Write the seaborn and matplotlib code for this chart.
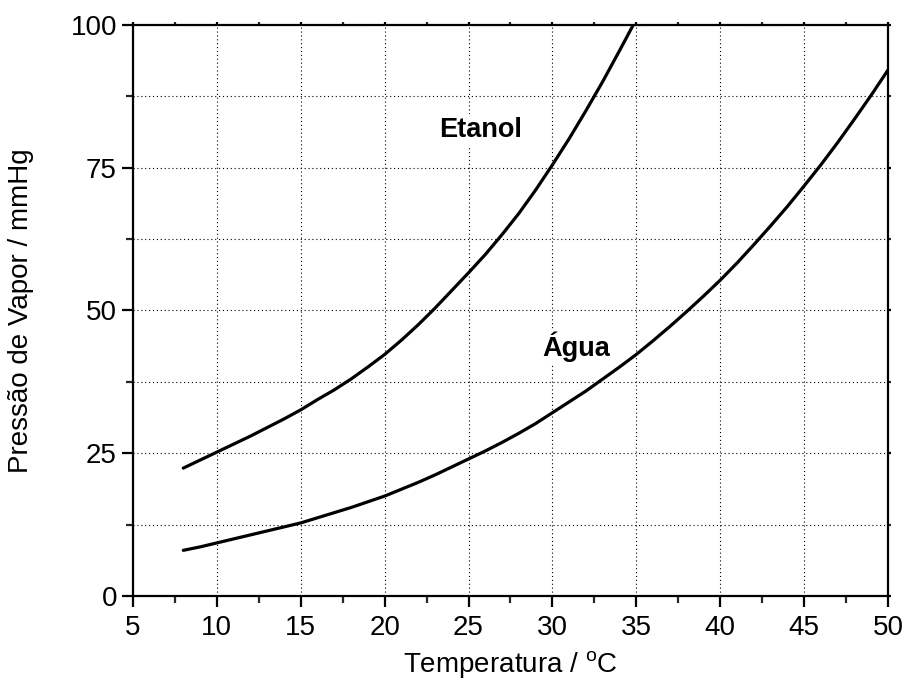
import numpy as np
import pandas as pd
import matplotlib
matplotlib.use("Agg")
import matplotlib.pyplot as plt
from matplotlib.ticker import MultipleLocator
import seaborn as sns

# valores (mmHg)
temp_etanol = list(range(8, 36))
pv_etanol = [22.4, 23.8, 25.2, 26.6, 28.0, 29.5, 31.0, 32.6, 34.4, 36.1,
             38.0, 40.1, 42.3, 44.8, 47.5, 50.4, 53.5, 56.6, 59.8, 63.3,
             67.0, 71.1, 75.5, 80.1, 85.0, 90.1, 95.5, 101.0]

temp_agua = list(range(8, 51))
pv_agua = [8.0, 8.6, 9.3, 10.0, 10.7, 11.4, 12.1, 12.8, 13.7, 14.6,
           15.5, 16.5, 17.5, 18.7, 19.9, 21.2, 22.6, 24.0, 25.4, 26.9,
           28.5, 30.2, 32.1, 34.0, 35.9, 38.0, 40.1, 42.3, 44.7, 47.2,
           49.8, 52.5, 55.3, 58.3, 61.5, 64.8, 68.2, 71.8, 75.5, 79.4,
           83.5, 87.7, 92.1]

sns.set_theme(style="ticks")
plt.rcParams['font.family'] = ['Liberation Sans', 'DejaVu Sans']
plt.rcParams['mathtext.fontset'] = 'custom'
plt.rcParams['mathtext.rm'] = 'Liberation Sans'
plt.rcParams['text.color'] = 'black'
plt.rcParams['axes.labelcolor'] = 'black'

df_et = pd.DataFrame({'T': temp_etanol, 'P': pv_etanol})
df_ag = pd.DataFrame({'T': temp_agua, 'P': pv_agua})

fig = plt.figure(figsize=(9.07, 6.88), dpi=100)
ax = fig.add_axes([0.1466, 0.1337, 0.8324, 0.83])

sns.lineplot(data=df_et, x='T', y='P', ax=ax, color='black', lw=2.3)
sns.lineplot(data=df_ag, x='T', y='P', ax=ax, color='black', lw=2.3)

ax.set_xlim(5, 50)
ax.set_ylim(0, 100)
ax.xaxis.set_major_locator(MultipleLocator(5))
ax.xaxis.set_minor_locator(MultipleLocator(2.5))
ax.yaxis.set_major_locator(MultipleLocator(25))
ax.yaxis.set_minor_locator(MultipleLocator(12.5))

# grade pontilhada
ax.grid(which='major', axis='both', color='black', lw=0.8, ls=(0, (1, 2.5)))
ax.grid(which='minor', axis='y', color='black', lw=0.8, ls=(0, (1, 2.5)))

for s in ax.spines.values():
    s.set_linewidth(1.6)
    s.set_color('black')

ax.tick_params(which='major', direction='out', length=8, width=1.6, labelsize=20, colors='black')
ax.tick_params(which='minor', direction='out', length=5, width=1.6)
ax.tick_params(which='both', top=True, right=True)
ax.tick_params(axis='x', which='major', pad=6)
for t in ax.xaxis.get_ticklines(minor=False)[1::2] + ax.xaxis.get_ticklines(minor=True)[1::2]:
    t.set_markersize(2)
for t in ax.yaxis.get_ticklines(minor=False)[1::2] + ax.yaxis.get_ticklines(minor=True)[1::2]:
    t.set_markersize(2)

ax.set_xlabel('Temperatura / $^{\\mathregular{o}}$C', fontsize=20, labelpad=6)
ax.set_ylabel('Pressão de Vapor / mmHg', fontsize=20, labelpad=26)

box = dict(facecolor='white', edgecolor='none', pad=2)
ax.text(25.74, 81.6, 'Etanol', fontsize=19.5, fontweight='bold', ha='center', va='center', bbox=box)
ax.text(31.4, 43.6, 'Água', fontsize=19.5, fontweight='bold', ha='center', va='center', bbox=box)

fig.savefig('out.png', dpi=100)
